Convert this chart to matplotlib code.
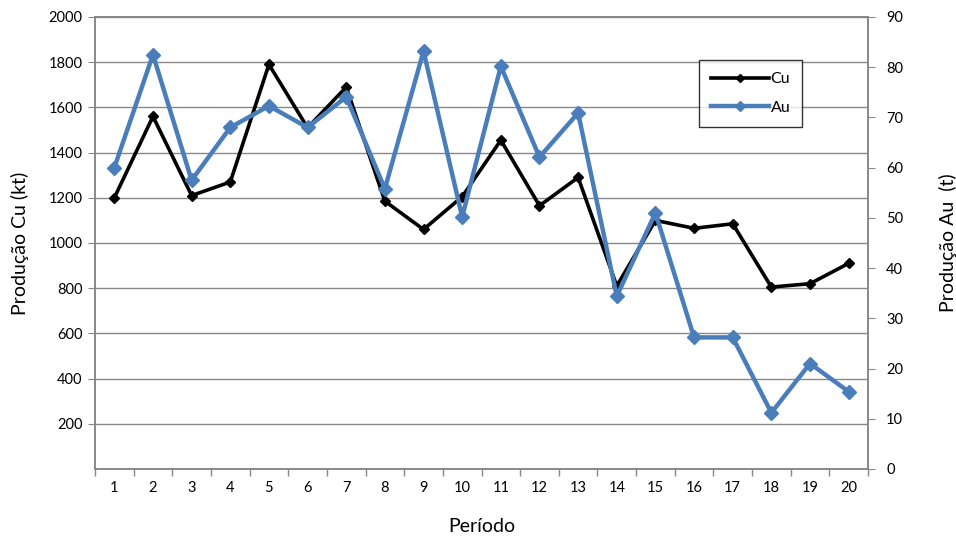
import matplotlib.pyplot as plt
import numpy as np
from matplotlib.ticker import FixedLocator, NullFormatter

plt.rcParams['font.family'] = ['Lato', 'DejaVu Sans']

periodos = list(range(1, 21))
cu_kt = [1200, 1560, 1210, 1270, 1790, 1510, 1690, 1185, 1060, 1205,
         1455, 1165, 1290, 810, 1100, 1065, 1085, 805, 820, 910]
au_t = [60.0, 82.5, 57.5, 68.0, 72.3, 68.0, 74.1, 55.8, 83.2, 50.2,
        80.2, 62.1, 70.9, 34.4, 51.0, 26.2, 26.2, 11.2, 21.0, 15.4]

cu_ticks = list(range(200, 2001, 200))
au_ticks = list(range(0, 91, 10))

grey = '#888888'
blue = '#4A7EBB'

fig = plt.figure(figsize=(9.56, 5.41), dpi=100)
ax = fig.add_axes([95 / 956, 1 - 469 / 541, 773 / 956, 452 / 541])
ax2 = ax.twinx()

x = np.array(periodos)
l1, = ax.plot(x, cu_kt, color='black', lw=2.6, marker='D', ms=5, label='Cu')
l2, = ax2.plot(x, au_t, color=blue, lw=3.2, marker='D', ms=7, label='Au')

ax.set_xlim(0.5, 20.5)
ax.set_ylim(0, 2000)
ax2.set_ylim(0, 90)

ax.set_yticks(cu_ticks)
ax.yaxis.grid(True, color=grey, lw=1.0)
ax.set_axisbelow(True)
ax2.set_yticks(au_ticks)

# category boundaries as major ticks, labels centred on minor ticks
ax.xaxis.set_major_locator(FixedLocator(np.arange(0.5, 21, 1)))
ax.xaxis.set_major_formatter(NullFormatter())
ax.xaxis.set_minor_locator(FixedLocator(x))
ax.set_xticklabels([str(p) for p in periodos], minor=True)
ax.tick_params(axis='x', which='major', length=5, color=grey, width=1)
ax.tick_params(axis='x', which='minor', length=0, pad=9, labelsize=10.5)
ax.tick_params(axis='y', length=5, color=grey, labelsize=10.5, pad=4)
ax2.tick_params(axis='y', length=5, color=grey, labelsize=10.5, pad=8)

for a in (ax, ax2):
    for s in a.spines.values():
        s.set_color(grey)
        s.set_linewidth(1.2)

ax.set_xlabel('Período', fontsize=14, labelpad=16)
ax.set_ylabel('Produção Cu (kt)', fontsize=14, labelpad=14)
ax2.set_ylabel('Produção Au  (t)', fontsize=14, labelpad=26)

leg = ax2.legend(handles=[l1, l2], loc='upper left',
                 bbox_to_anchor=(0.782, 0.905), frameon=True, fancybox=False,
                 edgecolor='black', fontsize=11.5, handlelength=3.6,
                 handletextpad=0.1, labelspacing=0.9, borderpad=0.75,
                 borderaxespad=0, markerscale=0.8)
leg.get_frame().set_linewidth(1.0)

fig.savefig('out.png', dpi=100)
